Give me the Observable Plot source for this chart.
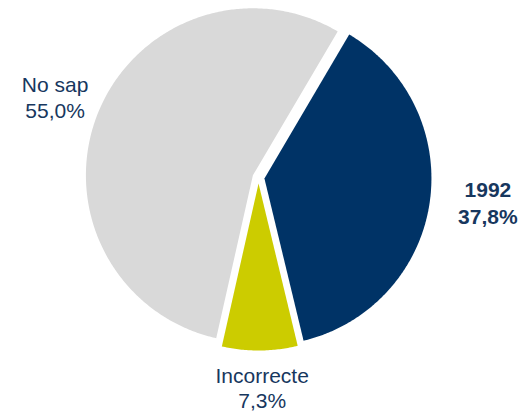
<!DOCTYPE html>
<html>
<head>
<meta charset="utf-8">
<script src="https://cdn.jsdelivr.net/npm/d3@7"></script>
<script src="https://cdn.jsdelivr.net/npm/@observablehq/plot@0.6"></script>
<style>
  html, body { margin: 0; padding: 0; background: #ffffff; }
  #chart { width: 521px; height: 412px; }
</style>
</head>
<body>
<div id="chart"></div>
<script>
// ---- data ----
const categories = ["1992", "Incorrecte", "No sap"];
const values = [37.8, 7.3, 55.0];
const valueLabels = ["37,8%", "7,3%", "55,0%"];

// ---- layout / style ----
const W = 521, H = 412;
const cx = 258, cy = 177, R = 167;          // pie centre & radius in pixels
const startDeg = 30.5;                        // first slice starts here (clockwise from top)
const explode = 6 / R;                        // slice separation
const labelR = 1.31;                          // label distance (in radii)
const labelNudge = {"1992": [13, -8], "Incorrecte": [2, -9], "No sap": [0, 0]}; // pixel nudges
const sliceColors = ["#003366", "#CCCC00", "#D9D9D9"];
const textColor = "#17375E";

const a0 = startDeg * Math.PI / 180;
const pie = d3.pie().sort(null).startAngle(a0).endAngle(a0 + 2 * Math.PI)(values);

const slicePoints = pie.flatMap((p, i) => {
  const cat = categories[i];
  const mid = (p.startAngle + p.endAngle) / 2;
  const ox = explode * Math.sin(mid), oy = explode * Math.cos(mid);
  const pts = [{cat, x: ox, y: oy}];
  const n = Math.max(4, Math.ceil((p.endAngle - p.startAngle) / 0.01));
  for (let k = 0; k <= n; k++) {
    const a = p.startAngle + (p.endAngle - p.startAngle) * k / n;
    pts.push({cat, x: ox + Math.sin(a), y: oy + Math.cos(a)});
  }
  pts.push({cat, x: ox, y: oy});
  return pts;
});

const labels = pie.map((p, i) => {
  const cat = categories[i];
  const mid = (p.startAngle + p.endAngle) / 2;
  const [nx, ny] = labelNudge[cat];
  return {
    cat,
    text: cat + "\n" + valueLabels[i],
    x: labelR * Math.sin(mid) + nx / R,
    y: labelR * Math.cos(mid) - ny / R,
    bold: cat === "1992"
  };
});

const chart = Plot.plot({
  width: W,
  height: H,
  margin: 0,
  x: {domain: [-cx / R, (W - cx) / R], axis: null},
  y: {domain: [-(H - cy) / R, cy / R], axis: null},
  color: {domain: categories, range: sliceColors},
  style: {background: "#ffffff", fontFamily: "'Liberation Sans', Arial, sans-serif"},
  marks: [
    Plot.line(slicePoints, {x: "x", y: "y", z: "cat", fill: "cat", stroke: "none", curve: "linear"}),
    Plot.text(labels.filter(d => !d.bold), {
      x: "x", y: "y", text: "text", fill: textColor,
      fontSize: 21, lineHeight: 1.2, textAnchor: "middle", lineAnchor: "middle"
    }),
    Plot.text(labels.filter(d => d.bold), {
      x: "x", y: "y", text: "text", fill: textColor,
      fontSize: 21, fontWeight: "bold", lineHeight: 1.28, textAnchor: "middle", lineAnchor: "middle"
    })
  ]
});

document.getElementById("chart").appendChild(chart);
</script>
</body>
</html>
